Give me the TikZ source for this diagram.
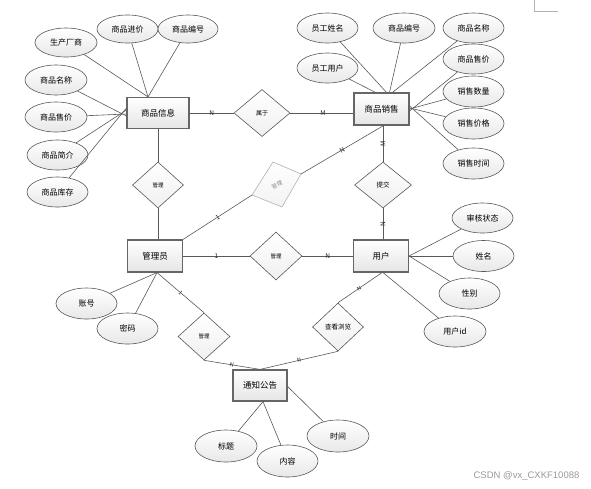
\documentclass[tikz,border=0pt]{standalone}
\usepackage{fontspec}
\setmainfont{Noto Sans CJK SC}
\newfontfamily\wmfont{Liberation Sans}
\usetikzlibrary{shapes.geometric}
\begin{document}
\begin{tikzpicture}[x=1pt,y=-1pt,
  conn/.style={draw=black!65, line width=0.6pt},
  attr/.style={ellipse, draw=black!65, line width=0.6pt, top color=white, bottom color=black!9,
    minimum width=61pt, minimum height=30pt, inner sep=0pt, font=\fontsize{8}{8}\selectfont},
  ent/.style={rectangle, draw=black!60, line width=1.2pt, top color=white, bottom color=black!10,
    minimum width=55pt, minimum height=31pt, inner sep=0pt, font=\fontsize{8.5}{8.5}\selectfont},
  rel/.style={diamond, draw=black!65, line width=0.6pt, top color=white, bottom color=black!6,
    inner sep=0pt, minimum width=52pt, minimum height=47pt, font=\fontsize{5.5}{5.5}\selectfont},
  card/.style={font=\fontsize{6.5}{6.5}\selectfont, inner sep=0.5pt, text=black!85}
]
\useasboundingbox (0,0) rectangle (591,488);

% page corner mark
\coordinate (pc1) at (534,0);
\coordinate (pc2) at (534,11);
\coordinate (pc3) at (558,11);
\draw[black!30, line width=0.6pt] (pc1) -- (pc2) -- (pc3);

% entities
\node[ent, minimum width=62pt] (sp) at (158,113) {商品信息};
\node[ent, minimum height=32pt] (xs) at (381.5,109) {商品销售};
\node[ent, minimum height=32pt] (gly) at (155,256) {管理员};
\node[ent, minimum height=32pt] (yh) at (381,256) {用户};
\node[ent, minimum width=54pt] (tz) at (260,385.5) {通知公告};

% relationships
\node[rel, minimum width=56pt, font=\fontsize{6}{6}\selectfont] (sx) at (262,113) {属于};
\node[rel, minimum width=51pt, minimum height=46pt] (m1) at (158,185) {管理};
\node[rel, minimum width=57pt, minimum height=46pt, font=\fontsize{6.5}{6.5}\selectfont] (tj) at (383,185) {提交};
\node[rel, minimum width=52pt, minimum height=48pt] (m2) at (276,256) {管理};
\node[rel, minimum width=52pt, minimum height=47pt] (m3) at (204,336.5) {管理};
\node[rel, minimum width=51pt, minimum height=48pt, font=\fontsize{6.5}{6.5}\selectfont] (ck) at (338,327) {查看浏览};

% faded rotated relationship
\coordinate (fdT) at (273,162);
\coordinate (fdR) at (301,174);
\coordinate (fdB) at (282,207);
\coordinate (fdL) at (252,195);
\draw[black!30, line width=0.6pt, top color=white, bottom color=black!5] (fdT) -- (fdR) -- (fdB) -- (fdL) -- cycle;
\node[rotate=24, text=black!45, font=\fontsize{5.5}{5.5}\selectfont, inner sep=0pt] (fd) at (277,185) {管理};

% attributes of 商品信息
\node[attr, minimum width=62pt, minimum height=29pt] (a1) at (66,42.5) {生产厂商};
\node[attr, minimum height=28pt] (a2) at (127.5,29) {商品进价};
\node[attr, minimum width=60pt, minimum height=28pt] (a3) at (188,29) {商品编号};
\node[attr, minimum width=62pt] (a4) at (56,80) {商品名称};
\node[attr, minimum width=62pt] (a5) at (56,117) {商品售价};
\node[attr] (a6) at (57.5,155) {商品简介};
\node[attr] (a7) at (57.5,192) {商品库存};

% attributes of 商品销售
\node[attr] (b1) at (327.5,28) {员工姓名};
\node[attr] (b2) at (327.5,68) {员工用户};
\node[attr, minimum width=62pt] (b3) at (404,28) {商品编号};
\node[attr] (b4) at (473.5,28) {商品名称};
\node[attr] (b5) at (473.5,59) {商品售价};
\node[attr, minimum height=31pt] (b6) at (473.5,91.5) {销售数量};
\node[attr, minimum height=31pt] (b7) at (473.5,123.5) {销售价格};
\node[attr, minimum height=31pt] (b8) at (473.5,163.5) {销售时间};

% attributes of 用户
\node[attr] (c1) at (482.5,218) {审核状态};
\node[attr, minimum height=31pt] (c2) at (483.5,256) {姓名};
\node[attr, minimum height=31pt] (c3) at (469.5,293.5) {性别};
\node[attr, minimum width=62pt, minimum height=31pt] (c4) at (455,331.5) {用户id};

% attributes of 管理员
\node[attr, minimum height=31pt] (d1) at (86.5,303.5) {账号};
\node[attr, minimum height=31pt] (d2) at (127.5,328.5) {密码};

% attributes of 通知公告
\node[attr, minimum width=62pt, minimum height=32pt] (e1) at (226,446) {标题};
\node[attr, minimum height=32pt] (e2) at (287.5,461) {内容};
\node[attr, minimum width=62pt, minimum height=32pt] (e3) at (338,436) {时间};

% attribute connectors
\draw[conn] (a1) -- ([xshift=-10pt]sp.north);
\draw[conn] (a2) -- ([xshift=-10pt]sp.north);
\draw[conn] (a3) -- ([xshift=-10pt]sp.north);
\draw[conn] (a4) -- ([yshift=-3pt]sp.west);
\draw[conn] (a5) -- ([yshift=-1pt]sp.west);
\draw[conn] (a6) -- ([yshift=3pt]sp.west);
\draw[conn] (a7) -- ([yshift=5pt]sp.west);

\draw[conn] (b1) -- ([xshift=5pt]xs.north);
\draw[conn] (b2) -- ([xshift=-6pt]xs.north);
\draw[conn] (b3) -- ([xshift=8pt]xs.north);
\draw[conn] (b4) -- ([xshift=11pt]xs.north);
\draw[conn] (b5) -- ([yshift=-2pt]xs.east);
\draw[conn] (b6) -- (xs.east);
\draw[conn] (b7) -- ([yshift=1pt]xs.east);
\draw[conn] (b8) -- ([yshift=3pt]xs.east);

\draw[conn] (c1) -- (yh.east);
\draw[conn] (c2) -- (yh.east);
\draw[conn] (c3) -- (yh.east);
\draw[conn] (c4) -- ([xshift=2pt]yh.south);

\draw[conn] (d1) -- ([xshift=2pt]gly.south);
\draw[conn] (d2) -- ([xshift=2pt]gly.south);

\draw[conn] (e1) -- ([xshift=3pt]tz.south);
\draw[conn] (e2) -- ([xshift=3pt]tz.south);
\draw[conn] (e3) -- ([yshift=-1pt]tz.east);

% relationship connectors
\draw[conn] (sp.east |- sx.west) -- node[card] {N} (sx.west);
\draw[conn] (sx.east) -- node[card, pos=0.52] {M} (sx.east -| xs.west);
\draw[conn] (sp.south -| m1.north) -- (m1.north);
\draw[conn] (m1.south) -- (m1.south |- gly.north);
\draw[conn] (gly.north east) -- node[card, sloped] {1} (fdL);
\draw[conn] (fdR) -- node[card, sloped] {N} ([xshift=2pt]xs.south);
\draw[conn] (xs.south -| tj.north) -- node[card, rotate=90] {M} (tj.north);
\draw[conn] (tj.south) -- node[card, rotate=90] {N} (tj.south |- yh.north);
\draw[conn] (gly.east) -- node[card] {1} (m2.west);
\draw[conn] (m2.east) -- node[card] {N} (yh.west);
\draw[conn] ([xshift=2pt]gly.south) -- node[card, sloped, font=\fontsize{5.5}{5.5}\selectfont] {1} (m3.north);
\draw[conn] (m3.south) -- node[card, sloped, font=\fontsize{5.5}{5.5}\selectfont] {N} (tz.north);
\draw[conn] ([xshift=1pt]yh.south) -- node[card, sloped, pos=0.52, font=\fontsize{5.5}{5.5}\selectfont] {N} (ck.north);
\draw[conn] (ck.south) -- node[card, sloped, font=\fontsize{5.5}{5.5}\selectfont] {N} (tz.north);

% watermark
\node[text=black!40, font=\wmfont\fontsize{9.5}{9.5}\selectfont, inner sep=0pt] (wm) at (526.5,476) {CSDN @vx\_CXKF10088};
\end{tikzpicture}
\end{document}
